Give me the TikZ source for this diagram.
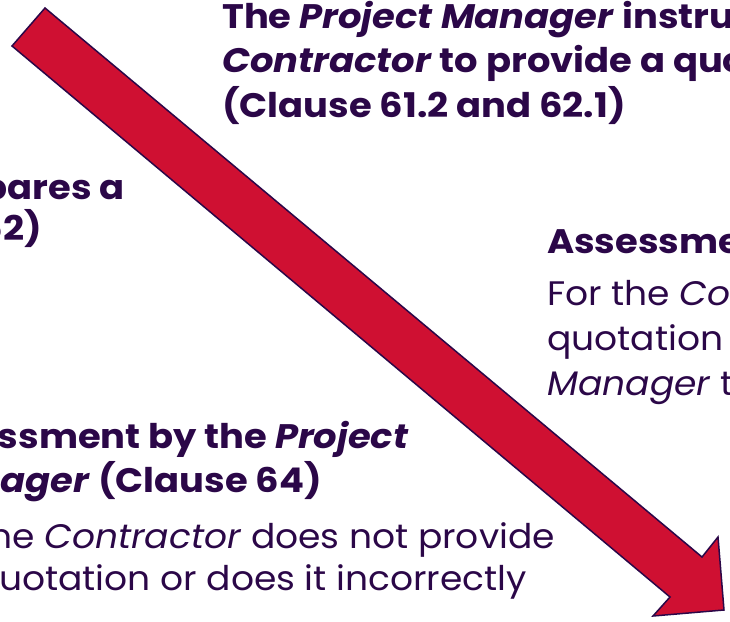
\documentclass[tikz,border=0pt]{standalone}
\usepackage{fontspec}
\setmainfont{Poppins}
\usetikzlibrary{calc}
\definecolor{ink}{RGB}{43,7,72}
\definecolor{arrowred}{RGB}{207,16,50}
\tikzset{
  headtxt/.style={font=\fontsize{34}{44}\selectfont\addfontfeature{FakeStretch=1.085}\bfseries, text=ink, inner sep=0pt},
  bodytxt/.style={font=\fontsize{34}{44}\selectfont\addfontfeature{FakeStretch=1.06}, text=ink, inner sep=0pt},
}
\begin{document}
\begin{tikzpicture}[x=1pt,y=-1pt]
     \useasboundingbox (0,0) rectangle (730,621);
     \clip (0,0) rectangle (730,621);

     %箭头
     \coordinate (tailtop) at (45,8);
     \coordinate (tailbot) at (12,46);
     \coordinate (necktop) at (702,557);
     \coordinate (neckbot) at (670,597);
     \coordinate (barbtop) at (718,537);
     \coordinate (barbbot) at (653,616);
     \coordinate (tip) at (724,610);
     \filldraw[fill=arrowred,draw=ink,line width=1.5pt,line join=miter]
     	(tailtop) -- (necktop) -- (barbtop) -- (tip) -- (barbbot) -- (neckbot) -- (tailbot) -- cycle;

     %上
     \node (pmA) at (222,28) [headtxt,anchor=base west]{The \textit{Project Manager} instructs the};
     \node (pmB) at (222,72) [headtxt,anchor=base west]{\textit{Contractor} to provide a quotation};
     \node (pmC) at (222,117) [headtxt,anchor=base west]{(Clause 61.2 and 62.1)};

     %左
     \node (coA) at (125,199) [headtxt,anchor=base east]{The \textit{Contractor} prepares a};
     \node (coB) at (42,240) [headtxt,anchor=base east]{quotation (Clause 62)};

     %右
     \node (asA) at (547,253) [headtxt,anchor=base west]{Assessment by the \textit{Project Manager}};
     \node (asB) at (547,305) [bodytxt,anchor=base west]{For the \textit{Contractor}'s};
     \node (asC) at (547,350) [bodytxt,anchor=base west]{quotation the \textit{Project}};
     \node (asD) at (547,395) [bodytxt,anchor=base west]{\textit{Manager} to reply};

     %下
     \node (ldA) at (409,448) [headtxt,anchor=base east]{Assessment by the \textit{Project}};
     \node (ldB) at (322,492) [headtxt,anchor=base east]{\textit{Manager} (Clause 64)};
     \node (ldC) at (555,548) [bodytxt,anchor=base east]{If the \textit{Contractor} does not provide};
     \node (ldD) at (527,590) [bodytxt,anchor=base east]{a quotation or does it incorrectly};

\end{tikzpicture}
\end{document}
